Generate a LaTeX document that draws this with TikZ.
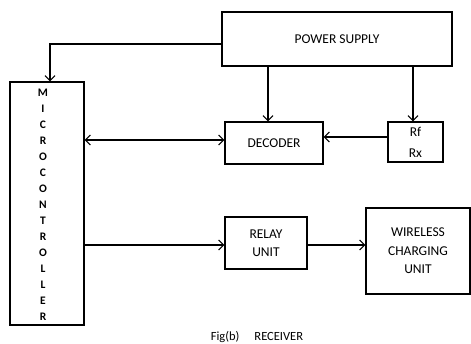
\documentclass[tikz,border=0pt]{standalone}
\usepackage{fontspec}
\setmainfont{Carlito}
\usetikzlibrary{arrows.meta}
\begin{document}
\begin{tikzpicture}[x=1pt,y=-1pt,
  blk/.style={draw,line width=1.3pt,inner sep=0pt},
  tip/.tip={Straight Barb[length=5pt,width=10pt,line width=1.1pt]},
  conn/.style={line width=1.3pt,-tip},
  every node/.style={font=\fontsize{13.5}{18}\selectfont}]
\useasboundingbox (0,0) rectangle (471,343);
\node[blk,minimum width=230pt,minimum height=54pt] (ps) at (337,39) {POWER SUPPLY};
\node[blk,minimum width=74pt,minimum height=243pt] (mcu) at (47,203.5) {};
\node[align=center,font=\fontsize{11.5}{16}\selectfont\bfseries] (mcut) at (43,205) {M\\I\\C\\R\\O\\C\\O\\N\\T\\R\\O\\L\\L\\E\\R};
\node[blk,minimum width=98pt,minimum height=42pt] (dec) at (274,143) {DECODER};
\node[blk,minimum width=55pt,minimum height=40pt,align=center,font=\fontsize{13.5}{21}\selectfont] (rf) at (415.5,142) {Rf\\Rx};
\node[blk,minimum width=82pt,minimum height=52pt,align=center] (relay) at (266,243) {RELAY\\UNIT};
\node[blk,minimum width=104pt,minimum height=86pt,align=center,font=\fontsize{13.5}{18.5}\selectfont] (wcu) at (418,251) {WIRELESS\\CHARGING\\UNIT};
\node[font=\fontsize{12.5}{13}\selectfont] (cap) at (257,337) {Fig(b)\hspace{1.2em}RECEIVER};
\draw[conn] (ps.west |- 0,44) -| (mcu.north -| 50,0);
\draw[conn] (ps.south -| 268,0) -- (dec.north -| 268,0);
\draw[conn] (ps.south -| 413,0) -- (rf.north -| 413,0);
\draw[conn] (rf.west |- 0,137) -- (dec.east |- 0,137);
\draw[conn,tip-tip] (mcu.east |- 0,140) -- (dec.west |- 0,140);
\draw[conn] (mcu.east |- 0,245) -- (relay.west |- 0,245);
\draw[conn] (relay.east |- 0,245) -- (wcu.west |- 0,245);
\end{tikzpicture}
\end{document}
